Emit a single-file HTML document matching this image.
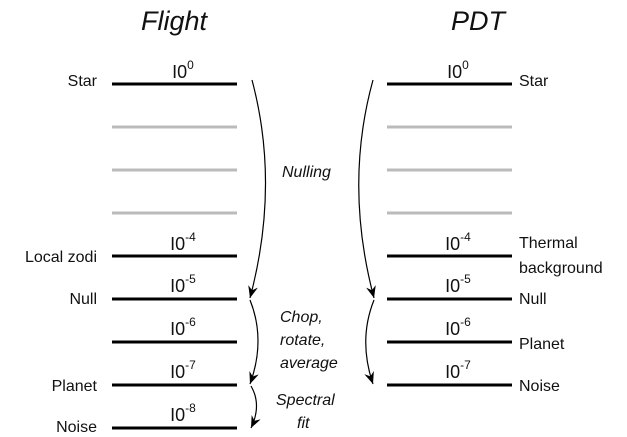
<!DOCTYPE html>
<html><head><style>
body{margin:0;background:#fff;}
svg text{font-family:"Liberation Sans",sans-serif;fill:#111;}
</style></head><body>
<svg width="627" height="432" viewBox="0 0 627 432" xmlns="http://www.w3.org/2000/svg">
<defs>
<marker id="ah" markerWidth="12" markerHeight="10" refX="12" refY="5" orient="auto" markerUnits="userSpaceOnUse" viewBox="0 0 12 10">
<path d="M0,0 L12,5 L0,10 L4,5 Z" fill="#000"/>
</marker>
</defs>
<text x="174" y="30" font-size="27" font-style="italic" text-anchor="middle">Flight</text>
<text x="478" y="30" font-size="27" font-style="italic" text-anchor="middle">PDT</text>
<g stroke="#000" stroke-width="3">
<line x1="112" y1="84" x2="237" y2="84"/>
<line x1="112" y1="256" x2="237" y2="256"/>
<line x1="112" y1="299" x2="237" y2="299"/>
<line x1="112" y1="342" x2="237" y2="342"/>
<line x1="112" y1="385" x2="237" y2="385"/>
<line x1="112" y1="428" x2="237" y2="428"/>
<line x1="387" y1="84" x2="512" y2="84"/>
<line x1="387" y1="256" x2="512" y2="256"/>
<line x1="387" y1="299" x2="512" y2="299"/>
<line x1="387" y1="342" x2="512" y2="342"/>
<line x1="387" y1="385" x2="512" y2="385"/>
</g>
<g stroke="#bbb" stroke-width="3">
<line x1="112" y1="127" x2="237" y2="127"/>
<line x1="112" y1="170" x2="237" y2="170"/>
<line x1="112" y1="213" x2="237" y2="213"/>
<line x1="387" y1="127" x2="512" y2="127"/>
<line x1="387" y1="170" x2="512" y2="170"/>
<line x1="387" y1="213" x2="512" y2="213"/>
</g>
<g fill="none" stroke="#000" stroke-width="1.2">
<path d="M252,80 Q280,185 250,298" marker-end="url(#ah)"/>
<path d="M250,300 Q266,340 250,384" marker-end="url(#ah)"/>
<path d="M251,386 Q262,405 251,428" marker-end="url(#ah)"/>
<path d="M373,80 Q344,185 374,298" marker-end="url(#ah)"/>
<path d="M374,300 Q358,340 373,384" marker-end="url(#ah)"/>
</g>
<g font-size="16">
<text x="97" y="86" text-anchor="end">Star</text>
<text x="97" y="262" text-anchor="end">Local zodi</text>
<text x="97" y="304" text-anchor="end">Null</text>
<text x="97" y="391" text-anchor="end">Planet</text>
<text x="97" y="432" text-anchor="end">Noise</text>
<text x="519" y="86">Star</text>
<text x="519" y="248">Thermal</text>
<text x="519" y="273">background</text>
<text x="519" y="304">Null</text>
<text x="519" y="349">Planet</text>
<text x="519" y="391">Noise</text>
</g>
<g font-size="18" text-anchor="middle">
<text x="183" y="78">I0<tspan font-size="12" dy="-9">0</tspan></text>
<text x="183" y="250">I0<tspan font-size="12" dy="-9">-4</tspan></text>
<text x="183" y="292">I0<tspan font-size="12" dy="-9">-5</tspan></text>
<text x="183" y="335">I0<tspan font-size="12" dy="-9">-6</tspan></text>
<text x="183" y="378">I0<tspan font-size="12" dy="-9">-7</tspan></text>
<text x="183" y="421">I0<tspan font-size="12" dy="-9">-8</tspan></text>
<text x="458" y="78">I0<tspan font-size="12" dy="-9">0</tspan></text>
<text x="458" y="250">I0<tspan font-size="12" dy="-9">-4</tspan></text>
<text x="458" y="292">I0<tspan font-size="12" dy="-9">-5</tspan></text>
<text x="458" y="335">I0<tspan font-size="12" dy="-9">-6</tspan></text>
<text x="458" y="378">I0<tspan font-size="12" dy="-9">-7</tspan></text>
</g>
<g font-size="16" font-style="italic">
<text x="282" y="177">Nulling</text>
<text x="280" y="322">Chop,</text>
<text x="280" y="345">rotate,</text>
<text x="280" y="368">average</text>
<text x="276" y="405">Spectral</text>
<text x="297" y="428">fit</text>
</g>
</svg>
</body></html>
